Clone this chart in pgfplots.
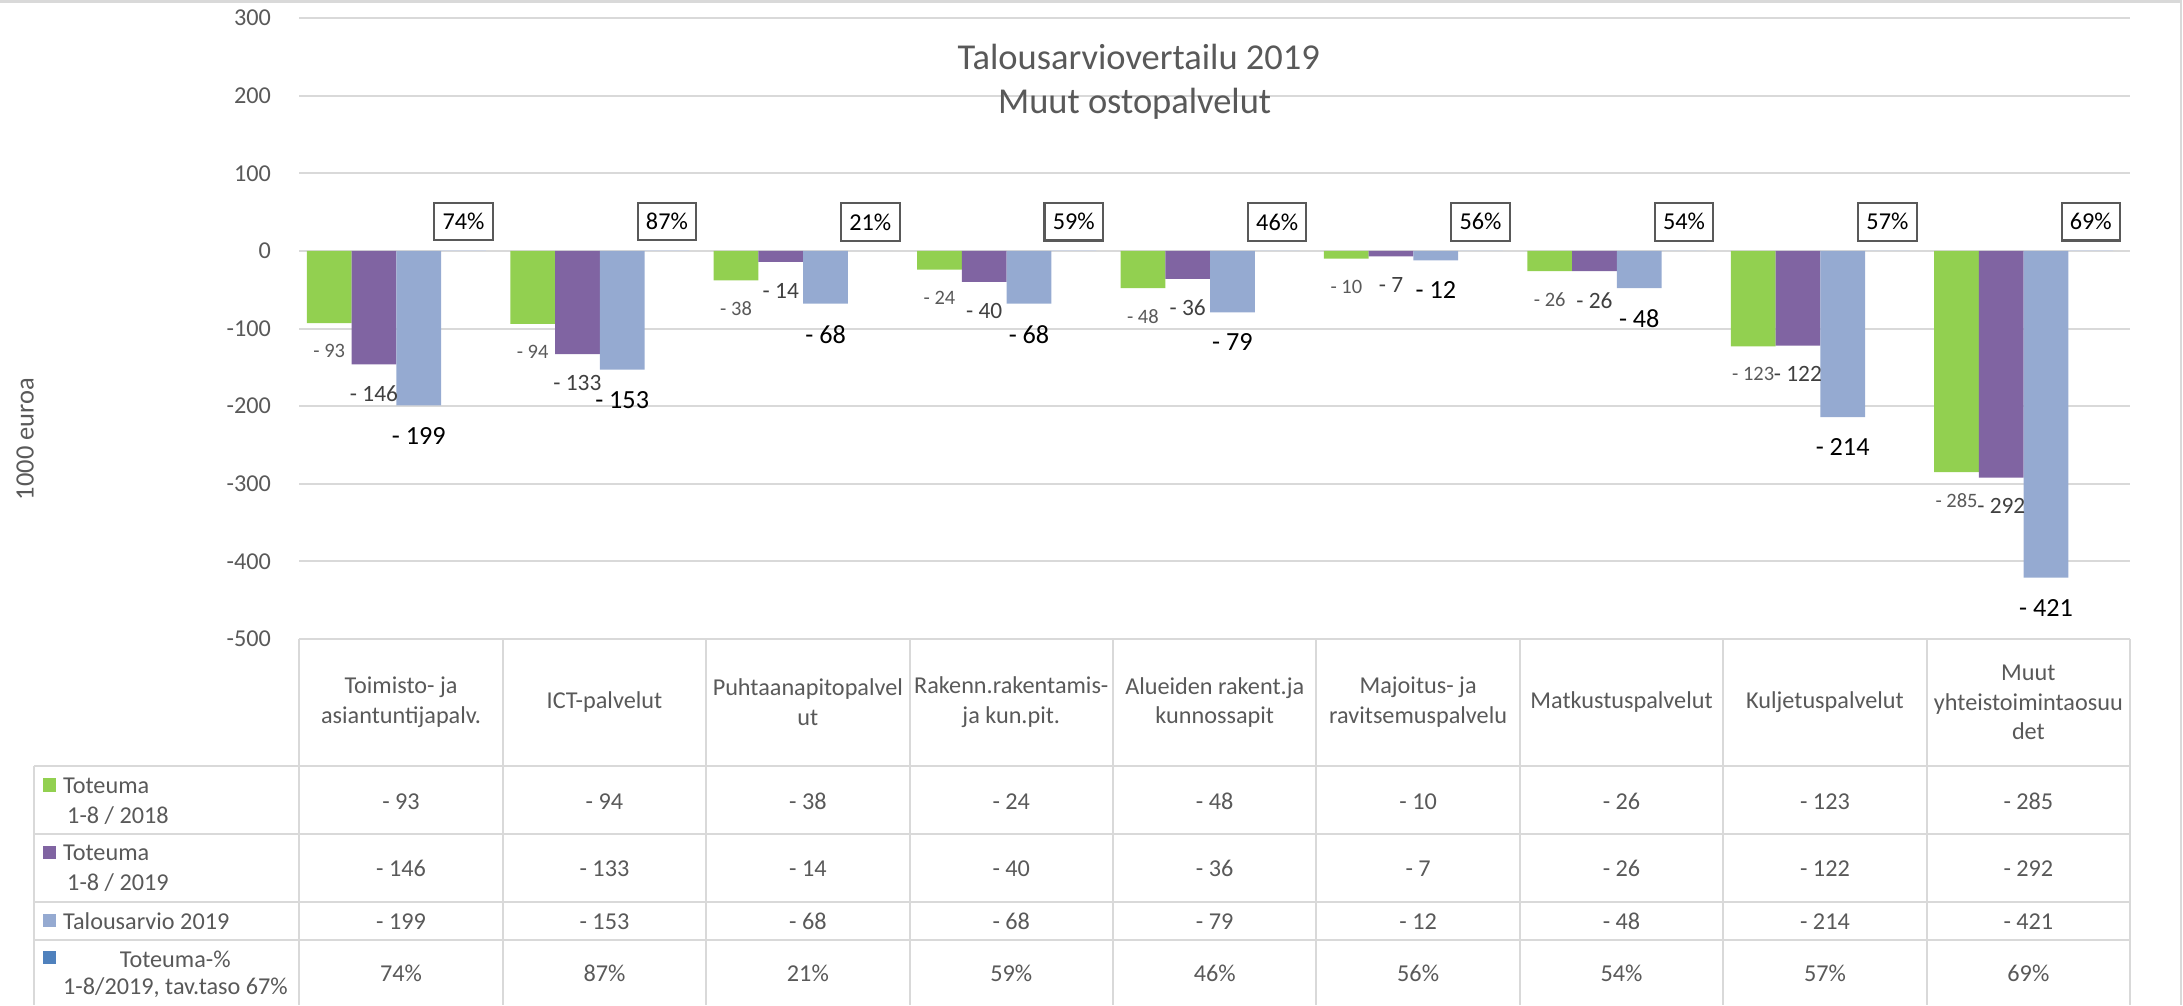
\documentclass[border=0pt]{standalone}
\usepackage{fontspec}
\setmainfont{Carlito}
\usepackage{pgfplots}
\pgfplotsset{compat=1.18}
\usepackage{pgfplotstable}
\definecolor{cgreen}{HTML}{92D050}
\definecolor{cpurple}{HTML}{8064A2}
\definecolor{cblue}{HTML}{95AAD1}
\definecolor{cdark}{HTML}{4F81BD}
\definecolor{ctext}{HTML}{595959}
\definecolor{cgrid}{HTML}{D9D9D9}

% toteuma 2018, toteuma 2019, talousarvio 2019, toteuma-%
\pgfplotstableread{
x a b c p
0 -93 -146 -199 74
1 -94 -133 -153 87
2 -38 -14 -68 21
3 -24 -40 -68 59
4 -48 -36 -79 46
5 -10 -7 -12 56
6 -26 -26 -48 54
7 -123 -122 -214 57
8 -285 -292 -421 69
}\data

\newcommand{\tf}{\fontsize{8.7}{10.65}\selectfont}

\begin{document}
\begin{tikzpicture}
\path[use as bounding box] (0,0) rectangle (784pt,-361pt);
\begin{axis}[
    at={(107.5pt,-229.5pt)}, anchor=south west,
    scale only axis, width=657.5pt, height=223pt,
    xmin=-0.5, xmax=8.5, ymin=-500, ymax=300,
    clip=false,
    /pgf/number format/assume math mode=true,
    axis line style={draw=none},
    tick style={draw=none},
    major tick length=0pt,
    ytick={-500,-400,...,300},
    yticklabels={-500,-400,-300,-200,-100,0,100,200,300},
    yticklabel style={font=\tf, text=ctext, inner sep=0pt, anchor=east, xshift=-10pt},
    ymajorgrids, grid style={cgrid, line width=0.75pt},
    xtick={0,...,8},
    xticklabels={{Toimisto- ja\\asiantuntijapalv.}, ICT-palvelut, {Puhtaanapitopalvel\\ut},
      {Rakenn.rakentamis-\\ja kun.pit.}, {Alueiden rakent.ja\\kunnossapit},
      {Majoitus- ja\\ravitsemuspalvelu}, Matkustuspalvelut, Kuljetuspalvelut,
      {Muut\\yhteistoimintaosuu\\det}},
    xticklabel style={font=\tf, text=ctext, align=center, anchor=center, inner sep=0pt, yshift=-22.75pt},
    bar width=0.22,
]
% bars (each series placed beside the category centre)
\addplot[ybar, bar shift=0pt, fill=cgreen, draw=none, point meta=explicit,
    nodes near coords={- \pgfmathprintnumber{\pgfplotspointmeta}},
    every node near coord/.style={anchor=north, inner sep=0pt, yshift=-7.4pt,
      font=\fontsize{7.35}{8.8}\selectfont, text=ctext}]
    table[x expr={\thisrow{x}-0.353}, y=a, meta expr={-\thisrow{a}}] {\data};
\addplot[ybar, bar shift=0pt, fill=cpurple, draw=none, point meta=explicit,
    nodes near coords={- \pgfmathprintnumber{\pgfplotspointmeta}},
    every node near coord/.style={anchor=north, inner sep=0pt, yshift=-7.4pt,
      font=\fontsize{8.4}{10}\selectfont, text=black!75}]
    table[x expr={\thisrow{x}-0.133}, y=b, meta expr={-\thisrow{b}}] {\data};
\addplot[ybar, bar shift=0pt, fill=cblue, draw=none, point meta=explicit,
    nodes near coords={- \pgfmathprintnumber{\pgfplotspointmeta}},
    every node near coord/.style={anchor=north, inner sep=0pt, yshift=-7.6pt,
      font=\fontsize{9.4}{11}\selectfont, text=black}]
    table[x expr={\thisrow{x}+0.087}, y=c, meta expr={-\thisrow{c}}] {\data};
\addplot[ybar, bar shift=0pt, fill=cblue!50, draw=none, point meta=explicit,
    nodes near coords={\pgfmathprintnumber{\pgfplotspointmeta}\%},
    every node near coord/.style={anchor=south, yshift=3.2pt, draw=ctext, line width=0.75pt,
      inner sep=0pt, minimum width=21pt, minimum height=13.5pt,
      font=\fontsize{8.7}{10.4}\selectfont, text=black}]
    table[x expr={\thisrow{x}+0.307}, y expr={\thisrow{p}/100}, meta=p] {\data};

% data table rows
\addplot[draw=none, mark=none, point meta=explicit,
    nodes near coords={- \pgfmathprintnumber{\pgfplotspointmeta}},
    every node near coord/.style={anchor=center, inner sep=0pt, font=\tf, text=ctext}]
    table[x=x, y expr=-709.2, meta expr={-\thisrow{a}}] {\data};
\addplot[draw=none, mark=none, point meta=explicit,
    nodes near coords={- \pgfmathprintnumber{\pgfplotspointmeta}},
    every node near coord/.style={anchor=center, inner sep=0pt, font=\tf, text=ctext}]
    table[x=x, y expr=-796.1, meta expr={-\thisrow{b}}] {\data};
\addplot[draw=none, mark=none, point meta=explicit,
    nodes near coords={- \pgfmathprintnumber{\pgfplotspointmeta}},
    every node near coord/.style={anchor=center, inner sep=0pt, font=\tf, text=ctext}]
    table[x=x, y expr=-863.9, meta expr={-\thisrow{c}}] {\data};
\addplot[draw=none, mark=none, point meta=explicit,
    nodes near coords={\pgfmathprintnumber{\pgfplotspointmeta}\%},
    every node near coord/.style={anchor=center, inner sep=0pt, font=\tf, text=ctext}]
    table[x=x, y expr=-931.3, meta=p] {\data};
\end{axis}

\begin{scope}[x=0.5pt, y=-0.5pt]
  % table grid
  \draw[cgrid, line width=0.75pt] (24.7,550) -- (1530,550)
    (24.7,599) -- (1530,599) (24.7,648) -- (1530,648) (24.7,675) -- (1530,675)
    (24.7,550) -- (24.7,722);
  \foreach \k in {0,...,9}
    \draw[cgrid, line width=0.75pt] ({215+146.111*\k},459) -- ({215+146.111*\k},722);
  % chart border
  \draw[cgrid, line width=1pt] (0,1.2) -- (1566.6,1.2) (1566.6,0) -- (1566.6,722);
  % title and axis label
  \node[font=\fontsize{13.1}{15.7}\selectfont, text=ctext] at (818,41.2) {Talousarviovertailu 2019};
  \node[font=\fontsize{13.1}{15.7}\selectfont, text=ctext] at (815,74.2) {Muut ostopalvelut};
  \node[rotate=90, font=\fontsize{9.5}{11}\selectfont, text=ctext] at (18,315.4) {1000 euroa};
  % row headers with keys
  \fill[cgreen] (31.1,559.1) rectangle (40,568.7);
  \fill[cpurple] (31.1,607.7) rectangle (40,617.3);
  \fill[cblue] (31.1,656.6) rectangle (40,665.7);
  \fill[cdark] (31.1,683) rectangle (40,692.5);
  \begin{scope}[every node/.style={anchor=west, inner sep=0pt, font=\tf, text=ctext}]
    \node at (45,564.4) {Toteuma};
    \node at (47.9,585.5) {1-8 / 2018};
    \node at (45,612.3) {Toteuma};
    \node at (47.9,633.8) {1-8 / 2019};
    \node at (45,661.4) {Talousarvio 2019};
    \node at (85.7,689) {Toteuma-\%};
    \node at (45,709.5) {1-8/2019, tav.taso 67\%};
  \end{scope}
\end{scope}
\end{tikzpicture}
\end{document}
